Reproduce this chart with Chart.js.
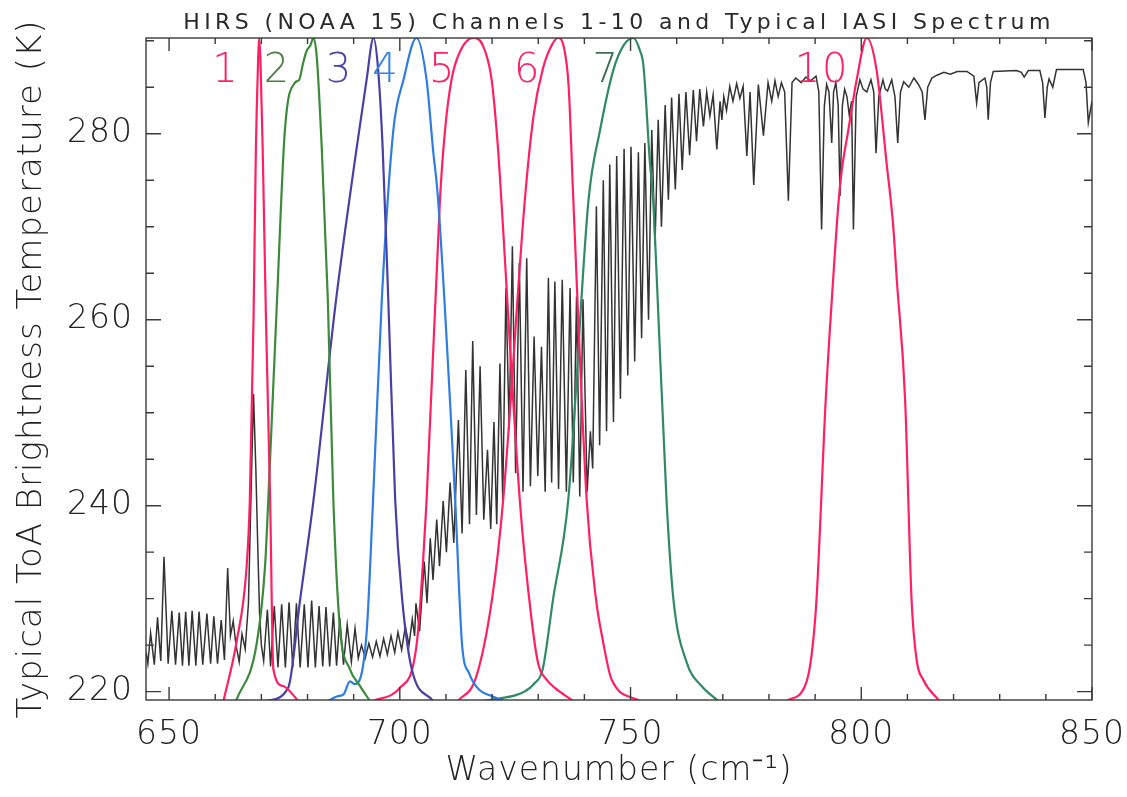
<!DOCTYPE html>
<html><head><meta charset="utf-8">
<script src="https://cdn.jsdelivr.net/npm/chart.js@4/dist/chart.umd.min.js"></script>
<style>html,body{margin:0;padding:0;background:#fff}#wrap{width:1127px;height:797px;position:relative}</style>
</head><body><div id="wrap"><canvas id="c"></canvas></div>
<script>
// ---- axis ticks ----
const xTicks = [650, 700, 750, 800, 850];
const yTicks = [220, 240, 260, 280];

// ---- typical IASI spectrum [wavenumber, brightness temperature K] ----
const iasiSpectrum = [
[645.0,224.3],[645.4,223.0],[646.0,226.3],[646.8,222.9],[647.5,228.0],[648.2,223.3],[648.9,234.5],[649.8,223.0],[650.6,228.7],[651.4,222.9],[652.2,228.5],[652.9,222.8],[653.6,228.6],[654.3,222.8],[655.0,228.7],[655.8,222.8],[656.5,228.6],[657.3,222.9],[658.2,228.4],[659.0,223.0],[659.7,228.1],[660.5,223.0],[661.3,227.7],[662.0,223.4],[662.7,233.3],[663.3,226.0],[663.9,227.6],[664.5,225.0],[665.2,223.2],[665.8,226.2],[666.5,224.6],[667.2,229.5],[667.8,242.0],[668.3,252.0],[668.8,244.0],[669.2,236.0],[669.6,228.5],[670.0,225.0],[670.5,223.3],
[671.3,228.8],[672.0,222.7],[672.8,229.2],[673.6,222.6],[674.4,229.4],[675.2,222.6],[676.0,229.6],[676.8,222.6],[677.6,229.5],[678.4,222.6],[679.3,229.4],[680.1,222.6],[680.9,229.8],[681.7,222.6],[682.5,229.2],[683.3,222.7],[684.0,229.1],[684.8,222.7],[685.6,228.5],[686.3,222.8],[687.0,227.9],[687.8,222.9],[688.6,227.2],[689.5,223.2],[690.3,226.8],[691.0,223.6],
[691.7,225.0],[692.5,223.6],[693.3,225.2],[694.1,223.7],[694.9,225.4],[695.7,223.8],[696.5,225.7],[697.3,224.0],[698.1,226.0],[698.9,224.2],[699.6,226.4],[700.4,224.5],[701.2,227.0],[702.0,225.0],[702.7,227.8],[703.2,226.0],[703.5,229.5],[704.3,226.5],[705.3,234.0],[705.9,229.5],[706.6,236.5],[707.2,232.0],
[708.0,238.5],[708.6,233.5],[709.4,240.5],[710.1,235.0],[710.9,242.5],[711.7,236.0],[712.7,249.2],[713.5,237.0],[714.3,254.6],[715.1,238.0],[715.8,257.7],[716.6,239.0],[717.4,255.0],[718.2,238.5],[719.0,246.0],[719.7,237.5],[720.4,249.0],[721.0,238.0],[721.7,255.3],[722.3,240.6],
[723.0,263.4],[723.7,248.2],[724.4,267.9],[725.1,243.5],[725.9,266.1],[726.7,241.5],[727.5,266.6],[728.3,242.1],[729.1,258.2],[729.9,243.2],[730.7,257.1],[731.5,241.5],[732.2,264.5],[732.9,242.5],[733.6,264.1],[734.4,241.8],[735.2,264.3],[736.1,241.5],[736.9,263.4],[737.6,242.5],[738.3,262.5],[739.0,241.0],[739.7,262.2],[740.6,241.5],[741.3,248.0],[741.8,244.0],[742.6,272.2],[743.3,246.5],[744.1,275.0],[744.8,248.0],
[745.5,276.7],[746.3,249.0],[747.0,277.6],[747.8,251.5],[748.6,278.4],[749.4,254.0],[750.1,278.6],[750.9,255.5],[751.7,278.0],[752.4,258.0],[753.1,279.0],[753.9,260.0],[754.6,280.4],[755.3,268.0],[756.0,281.5],[756.7,270.0],[757.5,283.1],[758.2,272.9],[758.9,283.9],[759.7,274.0],[760.5,284.3],[761.2,276.1],[762.0,284.5],[762.8,277.7],[763.6,284.7],[764.3,279.2],[765.0,284.8],[765.8,280.8],[766.5,284.5],[767.2,281.9],[767.9,284.2],[768.7,278.3],[769.4,283.5],[769.8,281.5],[770.2,284.0],[770.8,282.5],[771.5,285.1],[772.2,283.5],[773.0,285.4],[773.7,283.8],[774.4,285.1],[775.2,277.6],[775.9,284.5],[776.7,274.5],[777.7,285.3],[778.8,279.8],[779.8,285.5],[780.6,283.5],[781.3,285.7],[782.0,284.0],[782.7,285.5],[783.4,284.5],[784.2,272.8],[785.0,285.5],[785.8,286.0],[787.0,285.5],[788.0,286.1],[789.0,285.7],[790.2,286.2],[790.8,284.5],[791.4,269.7],[792.0,283.0],[792.5,285.3],[793.0,284.5],[793.6,279.0],[794.0,284.5],[794.5,285.5],[795.0,283.0],[795.4,273.3],[795.9,283.0],[796.4,284.8],[796.9,284.0],[797.4,282.0],[797.9,283.5],[798.3,269.7],[798.9,284.0],[799.7,285.8],[800.4,284.8],[801.2,284.5],[802.1,285.8],[802.7,284.5],[803.2,277.9],[803.8,284.0],[804.7,285.8],[805.2,284.8],[805.7,284.6],[806.6,285.8],[807.3,284.0],[807.9,279.0],[808.5,284.5],[809.2,285.6],[810.3,285.0],[811.4,286.0],[812.4,285.3],[813.2,284.5],[813.8,281.5],[814.4,285.0],[815.3,286.0],[816.4,286.3],[817.9,286.6],[819.3,286.4],[820.8,286.7],[822.9,286.7],[824.4,286.2],[825.0,283.3],[825.5,285.5],[826.8,286.0],[827.2,285.0],[827.5,281.5],[828.0,285.5],[828.6,286.7],[833.6,286.8],[834.7,286.6],[835.3,286.1],[836.2,286.8],[838.7,286.8],[839.3,285.5],[839.8,281.7],[840.3,285.0],[840.7,285.9],[841.5,285.0],[842.3,286.9],[848.1,286.9],[848.7,285.5],[849.2,281.2],[850.0,283.5]
];

// ---- HIRS channel response curves, drawn in the plot's K units ----
const ch1 = [[661.8,219.0],[664.6,225.3],[666.8,233.4],[667.5,240.6],[668.3,260.0],[668.8,278.0],[669.3,288.0],[669.5,290.3],[669.8,288.0],[670.3,278.0],[671.0,260.0],[671.9,240.6],[672.6,222.4],[674.7,220.6],[678.0,219.0]];
const ch2 = [[664.5,219.0],[669.0,225.2],[670.8,233.5],[671.5,240.6],[673.4,262.2],[675.1,280.4],[677.3,285.5],[678.2,285.8],[679.0,287.5],[679.8,288.9],[680.6,289.5],[681.3,290.3],[682.0,288.3],[683.1,278.3],[684.4,262.2],[685.6,240.6],[687.0,227.0],[689.2,222.4],[691.4,220.6],[693.5,219.0]];
const ch3 = [[671.1,219.0],[675.8,220.4],[678.4,229.9],[681.3,240.6],[686.2,262.2],[690.6,278.3],[692.8,285.8],[694.3,290.3],[695.3,286.9],[696.3,278.3],[697.5,262.2],[699.0,240.6],[700.5,230.0],[702.6,222.4],[707.2,219.0]];
const ch4 = [[684.5,219.0],[686.5,219.5],[687.8,219.7],[689.2,221.1],[690.3,220.8],[692.8,226.3],[694.2,240.6],[696.1,262.2],[698.6,280.4],[700.8,285.8],[703.6,290.3],[705.8,285.8],[707.2,278.3],[708.3,272.9],[712.0,240.6],[713.5,225.0],[715.0,222.0],[717.0,220.3],[720.0,219.5],[722.5,219.0]];
const ch5 = [[694.2,219.0],[700.0,220.4],[703.6,224.9],[705.8,240.6],[708.7,272.9],[709.8,280.4],[711.2,285.8],[713.0,288.8],[715.9,290.3],[718.0,289.5],[719.9,285.8],[721.3,278.3],[722.0,272.9],[726.0,240.6],[728.5,228.0],[730.0,223.0],[731.8,221.3],[733.6,220.4],[737.6,219.0]];
const ch6 = [[712.6,219.0],[716.5,221.5],[720.0,230.0],[722.4,240.6],[727.1,272.9],[729.0,282.0],[731.0,287.0],[733.0,289.6],[734.3,290.3],[735.6,289.2],[736.6,285.0],[737.6,272.9],[740.5,240.6],[742.5,230.0],[744.0,225.5],[745.9,221.3],[752.0,219.0]];
const ch7 = [[718.0,219.0],[722.0,219.3],[725.0,219.6],[727.0,220.0],[729.0,220.8],[731.0,222.5],[733.2,229.9],[736.5,240.6],[740.9,272.9],[743.4,280.4],[746.3,286.9],[748.5,289.5],[750.6,290.3],[752.0,289.0],[752.8,287.3],[754.2,276.9],[754.9,272.9],[755.7,264.3],[757.8,240.6],[759.3,229.9],[762.2,223.1],[765.4,220.6],[769.0,219.0]];
const ch10 = [[783.8,219.0],[787.8,220.6],[789.2,223.8],[790.3,229.9],[792.3,251.4],[793.9,264.3],[795.0,272.2],[795.7,275.8],[797.2,280.4],[799.0,285.8],[801.2,290.3],[803.3,286.9],[805.5,276.8],[806.9,270.2],[807.7,264.3],[809.5,251.4],[810.9,229.9],[812.0,223.4],[813.4,221.3],[816.9,219.0]];

// ---- channel number labels ----
const chanLabels = ['1','2','3','4','5','6','7','10'];
const chanLabelX = [662.1, 673.3, 686.7, 696.8, 709.1, 727.5, 744.5, 791.3];
const chanLabelY = 286.7;

const RED = '#ff1f62';
const chanColors = [RED, '#4a8040', '#4b45a3', '#3383e2', RED, RED, '#3e6f55', RED];

const pts = a => a.map(p => ({x: p[0], y: p[1]}));
const srf = (a, c) => ({data: pts(a), borderColor: c, borderWidth: 2.2, pointRadius: 0, cubicInterpolationMode: 'monotone', fill: false});

const decoPlugin = {
  id: 'deco',
  beforeDraw(chart) {
    chart.ctx.letterSpacing = '1px';
    const tb = chart.titleBlock;
    if (tb && !tb._ls) {
      const orig = tb.draw;
      tb.draw = function(...args) {
        const c = chart.ctx; const prev = c.letterSpacing;
        c.letterSpacing = '4.4px'; orig.apply(this, args); c.letterSpacing = prev;
      };
      tb._ls = true;
    }
  },
  afterDraw(chart) {
    const {ctx, chartArea: a, scales: {x, y}} = chart;
    ctx.save();
    ctx.strokeStyle = '#3a3a3a'; ctx.lineWidth = 1.4;
    ctx.strokeRect(a.left, a.top, a.right - a.left, a.bottom - a.top);
    ctx.beginPath();
    for (let v = 650; v <= 850; v += 10) {
      const px = x.getPixelForValue(v); const L = (v % 50 === 0) ? 13 : 6;
      ctx.moveTo(px, a.bottom); ctx.lineTo(px, a.bottom - L);
      ctx.moveTo(px, a.top); ctx.lineTo(px, a.top + L);
    }
    for (let v = 220; v <= 290; v += 5) {
      const py = y.getPixelForValue(v); const L = (v % 20 === 0) ? 15 : 8;
      ctx.moveTo(a.left, py); ctx.lineTo(a.left + L, py);
      ctx.moveTo(a.right, py); ctx.lineTo(a.right - L, py);
    }
    ctx.stroke();
    ctx.font = '300 40px "DejaVu Sans"';
    ctx.textAlign = 'center'; ctx.textBaseline = 'middle';
    ctx.letterSpacing = '2px';
    chanLabels.forEach((t, i) => {
      ctx.fillStyle = chanColors[i];
      ctx.fillText(t, x.getPixelForValue(chanLabelX[i]) + 1, y.getPixelForValue(chanLabelY));
    });
    ctx.restore();
  }
};

const FONT = 'DejaVu Sans';
const TXT = '#222';

new Chart(document.getElementById('c'), {
  type: 'line',
  data: {
    datasets: [
      srf(ch1, RED), srf(ch2, '#3d8a3c'), srf(ch3, '#4a3fa5'), srf(ch4, '#2f7de1'),
      srf(ch5, RED), srf(ch6, RED), srf(ch7, '#2f8a66'), srf(ch10, RED),
      {data: pts(iasiSpectrum), borderColor: '#333', borderWidth: 1.5, pointRadius: 0, tension: 0, fill: false}
    ]
  },
  options: {
    responsive: true, maintainAspectRatio: false, animation: false,
    layout: {padding: {left: 0, right: 35, top: 0, bottom: 0}},
    plugins: {
      legend: {display: false}, tooltip: {enabled: false},
      title: {display: true, fullSize: false, text: 'HIRS (NOAA 15) Channels 1-10 and Typical IASI Spectrum', color: '#2a2a2a',
        font: {family: FONT, size: 22, weight: 'normal'}, padding: {top: 10, bottom: 1.6}}
    },
    scales: {
      x: {
        type: 'linear', min: 645, max: 850,
        grid: {display: false, drawTicks: false}, border: {display: false},
        afterBuildTicks(s) { s.ticks = xTicks.map(v => ({value: v})); },
        afterFit(s) { s.height = 97; s.paddingLeft = 0; s.paddingRight = 0; },
        ticks: {color: TXT, font: {family: FONT, size: 33, weight: '300'}, padding: 16, maxRotation: 0, autoSkip: false},
        title: {display: true, text: 'Wavenumber (cm⁻¹)', color: TXT, font: {family: FONT, size: 33, weight: '300'}, padding: {top: 0, bottom: 6}}
      },
      y: {
        min: 219.1, max: 290.3,
        grid: {display: false, drawTicks: false}, border: {display: false},
        afterBuildTicks(s) { s.ticks = yTicks.map(v => ({value: v})); },
        afterFit(s) { s.width = 146; s.paddingTop = 0; s.paddingBottom = 0; },
        ticks: {color: TXT, font: {family: FONT, size: 33, weight: '300'}, padding: 13, autoSkip: false},
        title: {display: true, text: 'Typical ToA Brightness Temperature (K)', color: TXT, font: {family: FONT, size: 34, weight: '300'}, padding: {top: 12, bottom: 0}}
      }
    }
  },
  plugins: [decoPlugin]
});
</script>
</body></html>
